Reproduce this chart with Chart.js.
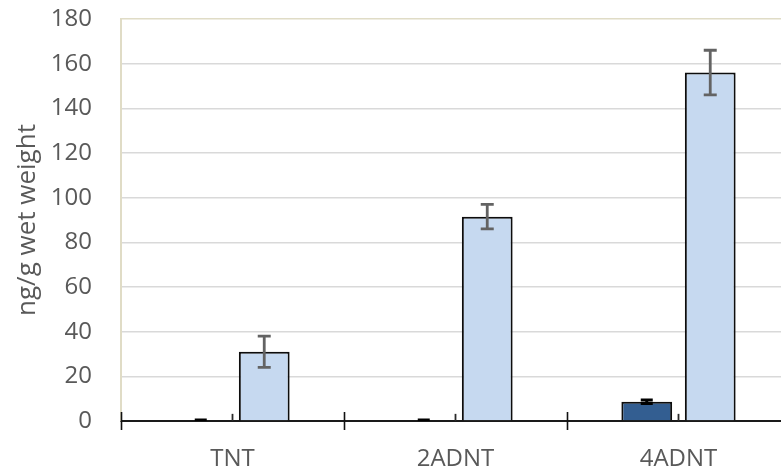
<!DOCTYPE html>
<html>
<head>
<meta charset="utf-8">
<script src="https://cdn.jsdelivr.net/npm/chart.js@4/dist/chart.umd.min.js"></script>
<style>
  html, body { margin: 0; padding: 0; background: #ffffff; overflow: hidden; }
  #wrap { width: 781px; height: 469px; overflow: hidden; }
  canvas { display: block; }
</style>
</head>
<body>
<div id="wrap"><canvas id="c" width="800" height="469"></canvas></div>
<script>
// Compounds measured
const categories = ["TNT", "2ADNT", "4ADNT"];

// Mean concentrations (ng/g wet weight) for the three groups
const seriesDark   = [0, 0, 8.6];
const seriesMiddle = [0, 0, 0];
const seriesLight  = [31, 91.5, 156];

// Error bar half-lengths for each group
const errorsDark   = [0.4, 0.4, 0.8];
const errorsMiddle = [3.2, 3.2, 3.2];
const errorsLight  = [7, 5.5, 10];

// Value axis ticks
const yTicks = [0, 20, 40, 60, 80, 100, 120, 140, 160, 180];

const TEXT = "#595959";
const FONT = "'Open Sans', 'Noto Sans', sans-serif";

// Draws vertical error bars on top of each bar, using the value scale
const errorBarPlugin = {
  id: "errorBars",
  afterDatasetsDraw(chart) {
    const { ctx, chartArea, scales } = chart;
    const y = scales.y;
    ctx.save();
    ctx.beginPath();
    ctx.rect(chartArea.left, chartArea.top - 5, chartArea.right - chartArea.left, chartArea.bottom - chartArea.top + 5);
    ctx.clip();
    chart.data.datasets.forEach((ds, di) => {
      const meta = chart.getDatasetMeta(di);
      if (!ds.errors) return;
      meta.data.forEach((bar, i) => {
        const v = ds.data[i];
        const e = ds.errors[i];
        const yHi = y.getPixelForValue(v + e);
        const yLo = y.getPixelForValue(Math.max(y.min, v - e));
        const x = bar.x;
        const cap = ds.errCap / 2;
        ctx.strokeStyle = ds.errColor;
        ctx.lineWidth = ds.errWidth;
        ctx.beginPath();
        ctx.moveTo(x, yHi);
        ctx.lineTo(x, yLo);
        if (cap > 0) {
          ctx.moveTo(x - cap, yHi);
          ctx.lineTo(x + cap, yHi);
          if (v - e >= y.min) {
            ctx.moveTo(x - cap, yLo);
            ctx.lineTo(x + cap, yLo);
          }
        }
        ctx.stroke();
      });
    });
    ctx.restore();
  }
};

// Category boundary tick marks crossing the horizontal axis
const categoryTicksPlugin = {
  id: "categoryTicks",
  afterDraw(chart) {
    const { ctx, scales } = chart;
    const x = scales.x;
    const n = chart.data.labels.length;
    const step = (x.right - x.left) / n;
    const yAxis = scales.y.getPixelForValue(0);
    ctx.save();
    ctx.strokeStyle = "#111111";
    ctx.lineWidth = 1.6;
    ctx.beginPath();
    for (let i = 0; i <= n; i++) {
      const px = Math.round(x.left + i * step) + 0.5;
      ctx.moveTo(px, yAxis - 9);
      ctx.lineTo(px, yAxis + 9);
    }
    ctx.stroke();
    ctx.restore();
  }
};

Chart.defaults.font.family = FONT;
Chart.defaults.color = TEXT;

new Chart(document.getElementById("c"), {
  type: "bar",
  data: {
    labels: categories,
    datasets: [
      {
        label: "A",
        data: seriesDark,
        errors: errorsDark,
        backgroundColor: "#335e91",
        borderColor: "#0d0d0d",
        borderWidth: 2,
        errColor: "#000000",
        errWidth: 3,
        errCap: 12
      },
      {
        label: "B",
        data: seriesMiddle,
        errors: errorsMiddle,
        backgroundColor: "rgba(0,0,0,0)",
        borderColor: "rgba(0,0,0,0)",
        borderWidth: 0,
        errColor: "#2a2a2a",
        errWidth: 1.8,
        errCap: 0
      },
      {
        label: "C",
        data: seriesLight,
        errors: errorsLight,
        backgroundColor: "#c6d9f0",
        borderColor: "#0d0d0d",
        borderWidth: 2,
        errColor: "#636363",
        errWidth: 2.8,
        errCap: 13
      }
    ]
  },
  options: {
    responsive: false,
    animation: false,
    events: [],
    layout: { padding: { top: 19, left: 0, right: 10, bottom: 0 } },
    datasets: {
      bar: {
        categoryPercentage: 0.427,
        barPercentage: 1.6
      }
    },
    plugins: {
      legend: { display: false },
      tooltip: { enabled: false }
    },
    scales: {
      x: {
        grid: { display: false, drawTicks: false },
        border: { display: true, color: "#1a1a1a", width: 2 },
        ticks: {
          color: TEXT,
          font: { size: 24, family: FONT },
          padding: 24,
          maxRotation: 0
        },
        afterFit(scale) {
          scale.height = 48;
          scale.paddingLeft = 0;
          scale.paddingRight = 0;
        }
      },
      y: {
        min: 0,
        max: 180,
        afterBuildTicks(scale) {
          scale.ticks = yTicks.map(v => ({ value: v }));
        },
        grid: {
          drawTicks: false,
          lineWidth: 1.4,
          color(ctx) {
            return ctx.tick && ctx.tick.value === 180 ? "#e0dcc6" : "#d9d9d9";
          }
        },
        border: { display: true, color: "#e0dcc6", width: 2 },
        ticks: {
          color: TEXT,
          font: { size: 24, family: FONT },
          padding: 29
        },
        title: {
          display: true,
          text: "ng/g wet weight",
          color: TEXT,
          font: { size: 26, family: FONT },
          padding: { top: 12, bottom: 0 }
        },
        afterFit(scale) {
          scale.width = 121;
          scale.paddingTop = 0;
          scale.paddingBottom = 0;
        }
      }
    }
  },
  plugins: [errorBarPlugin, categoryTicksPlugin]
});
</script>
</body>
</html>
